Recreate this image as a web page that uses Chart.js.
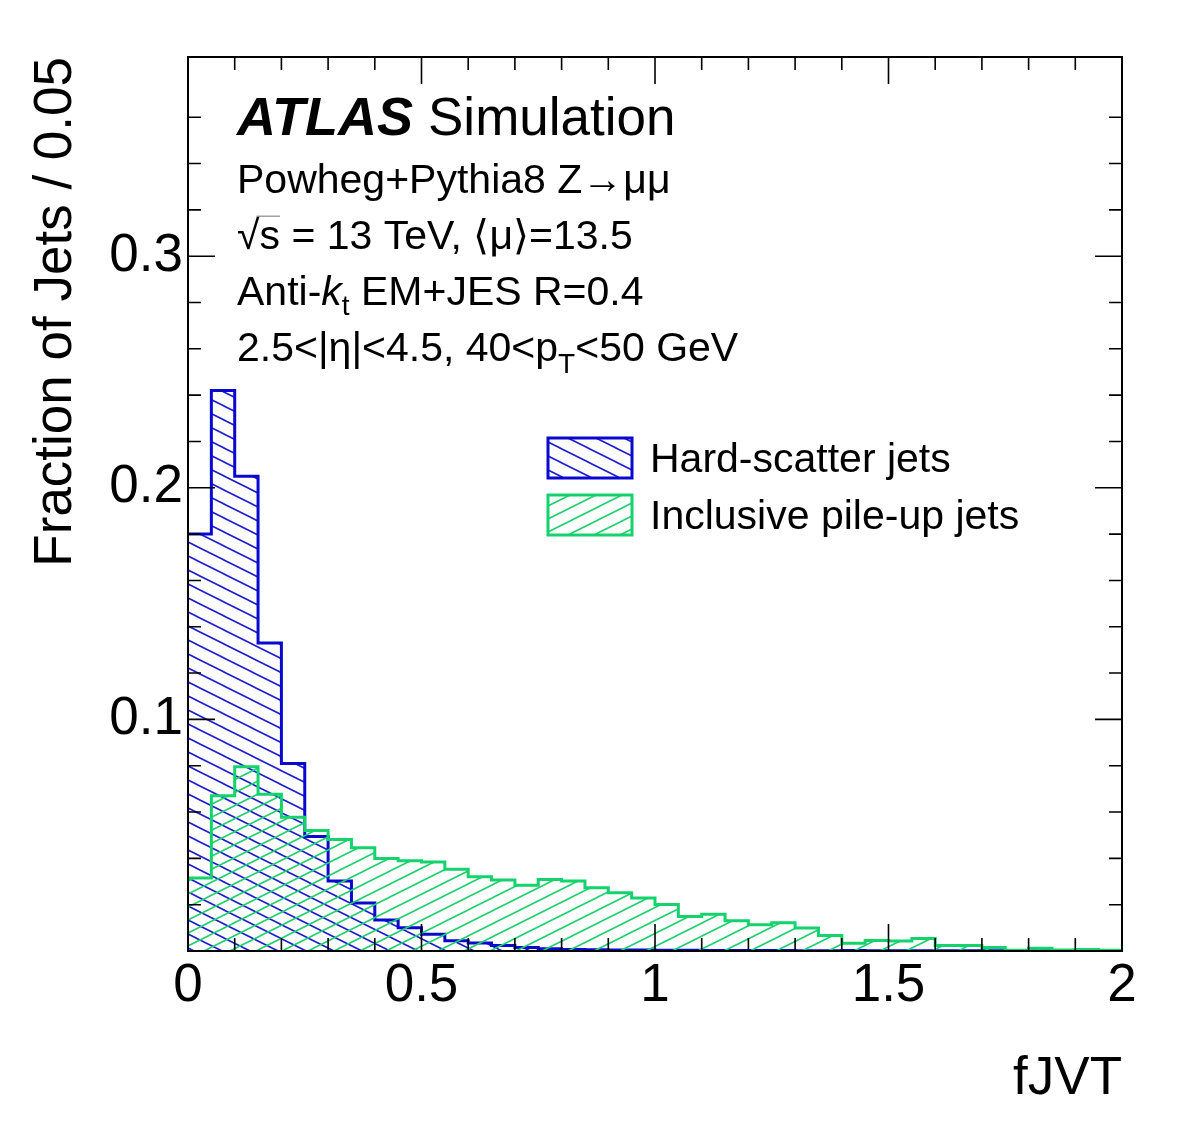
<!DOCTYPE html>
<html>
<head>
<meta charset="utf-8">
<script src="https://cdn.jsdelivr.net/npm/chart.js@4.4.1/dist/chart.umd.min.js"></script>
<style>
html,body{margin:0;padding:0;background:#fff;}
#wrap{width:1182px;height:1134px;position:relative;background:#fff;}
</style>
</head>
<body>
<div id="wrap"><canvas id="c" width="1182" height="1134"></canvas></div>
<script>
// ---------------- data ----------------
const binEdges = [0.00,0.05,0.10,0.15,0.20,0.25,0.30,0.35,0.40,0.45,0.50,0.55,0.60,0.65,0.70,0.75,0.80,0.85,0.90,0.95,
                  1.00,1.05,1.10,1.15,1.20,1.25,1.30,1.35,1.40,1.45,1.50,1.55,1.60,1.65,1.70,1.75,1.80,1.85,1.90,1.95,2.00];
const seriesNames = ['Hard-scatter jets', 'Inclusive pile-up jets'];
const hardScatter = [0.180,0.242,0.205,0.133,0.081,0.0494,0.0302,0.0207,0.0134,0.0100,
                     0.0072,0.0044,0.0035,0.0024,0.0015,0.0010,0.0007,0.0005,0.0004,0.0004,
                     0.0003,0.0003,0.0002,0.0002,0.0002,0.0002,0.0001,0.0001,0.0002,0.0001,
                     0.0001,0.0001,0.0001,0.0001,0.0001,0.0002,0.0001,0.0001,0.0001,0.0001];
const pileUp = [0.0315,0.0670,0.0796,0.0677,0.0577,0.0520,0.0481,0.0446,0.0399,0.0390,
                0.0384,0.0353,0.0321,0.0307,0.0284,0.0309,0.0302,0.0273,0.0252,0.0229,
                0.0201,0.0149,0.0159,0.0131,0.0113,0.0122,0.0099,0.0067,0.0033,0.0045,
                0.0043,0.0054,0.0024,0.0024,0.0015,0.0003,0.0012,0.0004,0.0006,0.0003];
const xTickValues = [0, 0.5, 1, 1.5, 2];
const xTickLabels = ['0', '0.5', '1', '1.5', '2'];
const yTickValues = [0.1, 0.2, 0.3];
const yTickLabels = ['0.1', '0.2', '0.3'];
const xTitle = 'fJVT';
const yTitle = 'Fraction of Jets / 0.05';

// ---------------- style ----------------
const FONT = "'Liberation Sans', Arial, Helvetica, sans-serif";
const BLUE = '#0808cf';
const GREEN = '#14d26c';
const BLUE_HATCH = '#1c1cd0';
const GREEN_HATCH = '#1ed06e';

const canvas = document.getElementById('c');
const ctx = canvas.getContext('2d');

function hatch(color, w, h, dir, lw) {
  const c = document.createElement('canvas');
  c.width = w; c.height = h;
  const g = c.getContext('2d');
  g.strokeStyle = color; g.lineWidth = lw;
  g.beginPath();
  for (let n = -1; n <= 2; n++) {
    if (dir > 0) { // "\" going down-right
      g.moveTo(-2, (h / w) * (-2) + n * h);
      g.lineTo(w + 2, (h / w) * (w + 2) + n * h);
    } else {       // "/" going up-right
      g.moveTo(-2, -(h / w) * (-2) + n * h);
      g.lineTo(w + 2, -(h / w) * (w + 2) + n * h);
    }
  }
  g.stroke();
  return ctx.createPattern(c, 'repeat');
}
const hatchBlue = hatch(BLUE_HATCH, 28, 14, 1, 1.6);
const hatchGreen = hatch(GREEN_HATCH, 26, 13, -1, 1.6);

function toSteps(values) {
  const pts = values.map((v, i) => ({x: binEdges[i], y: v}));
  pts.push({x: binEdges[values.length], y: values[values.length - 1]});
  return pts;
}
function labelFor(v, vals, labels) {
  for (let i = 0; i < vals.length; i++) if (Math.abs(v - vals[i]) < 1e-6) return labels[i];
  return '';
}

function drawRich(c, x, y, segs, baseSize) {
  let cx = x;
  for (const s of segs) {
    const size = s.size || baseSize;
    c.font = (s.style ? s.style + ' ' : '') + size + 'px ' + FONT;
    c.fillText(s.t, cx, y + (s.dy || 0));
    const w = c.measureText(s.t).width;
    if (s.over) {
      c.save(); c.lineWidth = 1.2; c.strokeStyle = '#888';
      c.beginPath(); c.moveTo(cx - 3, y - size * 0.80); c.lineTo(cx + w, y - size * 0.80); c.stroke();
      c.restore();
    }
    cx += w + (s.gap || 0);
  }
}

const atlasPlugin = {
  id: 'atlasDecor',
  afterDraw(chart) {
    const c = chart.ctx;
    const a = chart.chartArea;
    const xs = chart.scales.x, ys = chart.scales.y;
    c.save();
    // frame
    c.strokeStyle = '#000'; c.lineWidth = 2;
    c.strokeRect(a.left, a.top, a.right - a.left, a.bottom - a.top);
    // ticks inside
    c.lineWidth = 1.6;
    c.beginPath();
    xs.ticks.forEach(t => {
      const r = t.value / 0.1;
      if (Math.abs(r - Math.round(r)) > 1e-6) return;
      const px = xs.getPixelForValue(t.value);
      const major = labelFor(t.value, xTickValues, xTickLabels) !== '';
      const L = major ? 27 : 13;
      c.moveTo(px, a.bottom); c.lineTo(px, a.bottom - L);
      c.moveTo(px, a.top); c.lineTo(px, a.top + L);
    });
    ys.ticks.forEach(t => {
      const r = t.value / 0.02;
      if (Math.abs(r - Math.round(r)) > 1e-6) return;
      const py = ys.getPixelForValue(t.value);
      const major = labelFor(t.value, yTickValues, yTickLabels) !== '';
      const L = major ? 27 : 13;
      c.moveTo(a.left, py); c.lineTo(a.left + L, py);
      c.moveTo(a.right, py); c.lineTo(a.right - L, py);
    });
    c.stroke();

    // ATLAS label
    c.fillStyle = '#000';
    c.textBaseline = 'alphabetic'; c.textAlign = 'left';
    c.font = 'italic bold 54px ' + FONT;
    c.fillText('ATLAS', 237, 135);
    c.font = '53px ' + FONT;
    c.fillText('Simulation', 428, 135);

    const S = 41;
    drawRich(c, 237, 193, [{t: 'Powheg+Pythia8 Z→μμ'}], S);
    drawRich(c, 237, 249, [{t: '√'}, {t: 's', over: true}, {t: ' = 13 TeV, ⟨μ⟩=13.5'}], S);
    drawRich(c, 237, 305, [{t: 'Anti-'}, {t: 'k', style: 'italic'}, {t: 't', size: 28, dy: 10}, {t: ' EM+JES R=0.4'}], S);
    drawRich(c, 237, 361, [{t: '2.5<|η|<4.5, 40<p'}, {t: 'T', size: 28, dy: 12}, {t: '<50 GeV'}], S);

    // legend
    const leg = [
      {name: seriesNames[0], fill: hatchBlue, stroke: BLUE, y: 438},
      {name: seriesNames[1], fill: hatchGreen, stroke: GREEN, y: 495}
    ];
    leg.forEach(l => {
      c.fillStyle = '#fff';
      c.fillRect(548, l.y, 84, 40);
      c.fillStyle = l.fill;
      c.fillRect(548, l.y, 84, 40);
      c.strokeStyle = l.stroke; c.lineWidth = 3;
      c.strokeRect(548, l.y, 84, 40);
      c.fillStyle = '#000';
      c.font = '41px ' + FONT;
      c.fillText(l.name, 650, l.y + 34);
    });
    c.restore();
  }
};

new Chart(ctx, {
  type: 'line',
  data: {
    datasets: [
      {label: seriesNames[0], data: toSteps(hardScatter), stepped: 'before', borderColor: BLUE, borderWidth: 3,
       backgroundColor: hatchBlue, fill: 'origin', pointRadius: 0, tension: 0, order: 1},
      {label: seriesNames[1], data: toSteps(pileUp), stepped: 'before', borderColor: GREEN, borderWidth: 3,
       backgroundColor: hatchGreen, fill: 'origin', pointRadius: 0, tension: 0, order: 0}
    ]
  },
  options: {
    responsive: false,
    animation: false,
    devicePixelRatio: 1,
    layout: {padding: {left: 0, right: 60, top: 57, bottom: 0}},
    plugins: {legend: {display: false}, tooltip: {enabled: false}},
    scales: {
      x: {
        type: 'linear', min: 0, max: 2,
        grid: {display: false, drawTicks: false},
        border: {display: false},
        ticks: {stepSize: 0.1, autoSkip: false, maxRotation: 0, minRotation: 0, padding: 4, color: '#000',
                font: {family: FONT, size: 53},
                callback: v => labelFor(v, xTickValues, xTickLabels)},
        title: {display: true, text: xTitle, align: 'end', color: '#000', font: {family: FONT, size: 53},
                padding: {top: 0, bottom: 23}},
        afterFit: s => { s.height = 183; }
      },
      y: {
        type: 'linear', min: 0, max: 0.386,
        grid: {display: false, drawTicks: false},
        border: {display: false},
        ticks: {stepSize: 0.02, autoSkip: false, padding: 5, color: '#000',
                font: {family: FONT, size: 53},
                callback: v => labelFor(v, yTickValues, yTickLabels)},
        title: {display: true, text: yTitle, align: 'end', color: '#000', font: {family: FONT, size: 53},
                padding: {top: 25, bottom: 0}},
        afterFit: s => { s.width = 188; }
      }
    }
  },
  plugins: [atlasPlugin]
});
</script>
</body>
</html>
